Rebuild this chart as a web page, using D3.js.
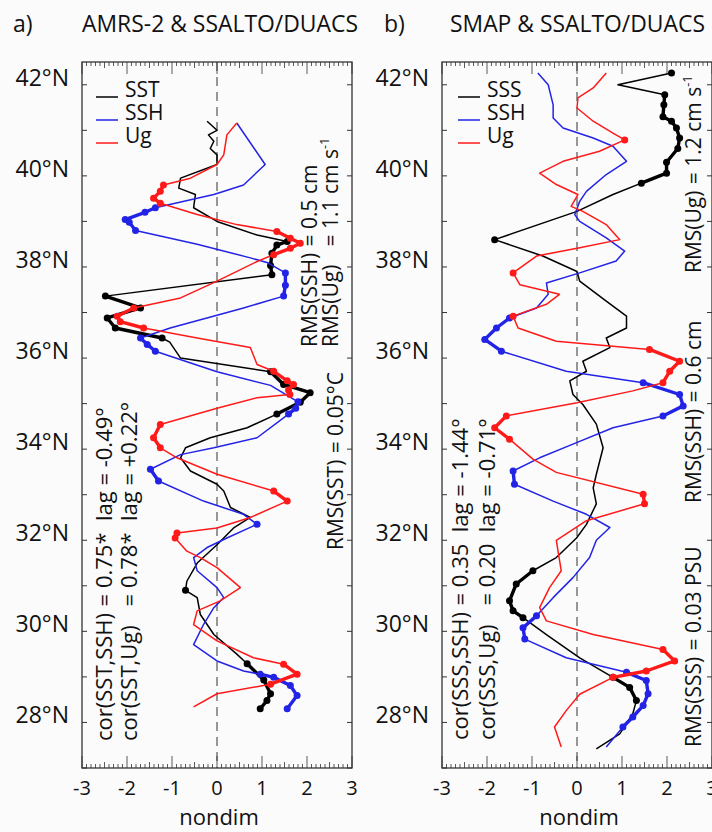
<!DOCTYPE html>
<html><head><meta charset="utf-8">
<script src="https://cdn.jsdelivr.net/npm/d3@7"></script>
<style>
html,body{margin:0;padding:0;background:#fbfbfb;}
svg{display:block;font-family:"Open Sans","Noto Sans",sans-serif;}
</style></head>
<body><svg id="c" width="712" height="832"></svg>
<script>
// ---------- data: [latitude (°N), value (nondim), flag] flag 1 = marked (thick run), 2 = marked, new run ----------
const sstA = [[41.2,-0.22,0],[41.0,0,0],[40.9,-0.19,0],[40.76,-0.07,0],[40.6,-0.15,0],[40.46,0,0],[40.25,0,0],[39.95,-0.81,0],[39.73,-0.85,0],[39.59,-0.48,0],[39.3,-0.52,0],[39.0,0,0],[38.7,0.89,0],[38.56,1.56,1],[38.48,1.33,1],[38.3,1.22,1],[38.03,1.19,1],[37.83,1.22,1],[37.36,-2.48,2],[37.1,-1.7,1],[36.88,-2.44,1],[36.66,-2.26,1],[36.44,-1.22,1],[36.35,-1.05,0],[36.0,-0.81,0],[35.7,1.19,2],[35.42,1.48,1],[35.24,2.07,1],[35.03,1.85,1],[34.77,1.33,1],[34.47,0.67,0],[34.25,-0.15,0],[34.03,-0.70,0],[33.81,-0.81,0],[33.52,-0.59,0],[33.23,0,0],[33.08,0.15,0],[32.72,0.30,0],[32.5,0.74,0],[32.27,0.37,0],[31.9,0,0],[31.5,-0.44,0],[31.1,-0.67,0],[30.9,-0.70,1],[30.74,-0.44,0],[30.37,-0.37,0],[29.93,-0.07,0],[29.5,0.44,0],[29.29,0.67,1],[28.93,1.04,1],[28.63,1.19,1],[28.48,1.11,1],[28.3,0.96,1]];
const sshA = [[41.16,0.44,0],[40.25,1.07,0],[39.8,0.59,0],[39.59,-0.07,0],[39.3,-1.37,1],[39.2,-1.6,1],[39.04,-2.04,1],[38.98,-1.95,1],[38.8,-1.81,1],[38.5,-0.44,0],[38.2,0.74,0],[38.1,1.11,0],[37.87,1.52,1],[37.6,1.52,1],[37.36,1.48,1],[37.1,0.59,0],[36.66,-1.04,0],[36.44,-1.70,1],[36.3,-1.55,1],[36.15,-1.37,1],[35.7,0,0],[35.4,1.19,0],[35.04,1.80,1],[34.9,1.75,1],[34.77,1.59,1],[34.25,0.89,0],[34.03,-0.07,0],[33.88,-0.81,0],[33.56,-1.48,1],[33.3,-1.30,1],[32.86,-0.30,0],[32.57,0.59,0],[32.35,0.89,1],[32.05,0.22,0],[31.84,-0.22,0],[31.62,-0.52,0],[31.33,-0.44,0],[30.96,0,0],[30.74,0.15,0],[30.52,-0.07,0],[30.15,-0.30,0],[29.71,-0.52,0],[29.35,0,0],[29.13,0.59,0],[29.06,0.96,1],[28.99,1.26,1],[28.81,1.63,1],[28.59,1.78,1],[28.3,1.56,1]];
const ugA = [[41.16,0.44,0],[40.9,0.22,0],[40.46,0.15,0],[40.25,0,0],[39.95,-0.59,0],[39.8,-1.19,1],[39.66,-1.26,1],[39.51,-1.41,1],[39.4,-1.26,1],[39.15,-0.44,0],[38.93,0.44,0],[38.78,1.33,1],[38.63,1.63,1],[38.52,1.85,1],[38.41,1.63,1],[38.27,1.26,1],[38.12,0.89,0],[37.69,0,0],[37.32,-0.81,0],[37.1,-1.85,1],[36.92,-2.22,1],[36.8,-2.15,1],[36.66,-1.63,1],[36.44,-0.44,0],[36.23,0.74,0],[35.86,0.89,0],[35.71,1.26,1],[35.5,1.56,1],[35.42,1.70,1],[35.3,1.59,1],[35.2,1.62,1],[35.13,0.89,0],[34.9,0,0],[34.54,-1.26,1],[34.25,-1.41,1],[34.03,-1.26,1],[33.81,-0.89,0],[33.45,0,0],[33.08,1.26,1],[32.86,1.56,1],[32.5,0.74,0],[32.27,0,0],[32.16,-0.89,1],[32.05,-0.93,1],[31.76,-0.67,0],[31.62,-0.37,0],[31.4,0,0],[30.96,0.52,0],[30.67,0.07,0],[30.45,-0.44,0],[30.15,-0.52,0],[29.79,0,0],[29.42,0.81,0],[29.28,1.48,1],[29.06,1.78,1],[28.84,1.19,1],[28.63,0,0],[28.34,-0.52,0]];
const sssB = [[42.26,2.10,1],[42.0,0.91,0],[41.78,1.95,1],[41.56,1.93,1],[41.3,1.91,1],[41.2,2.1,1],[41.05,2.21,1],[40.83,2.28,1],[40.6,2.24,1],[40.3,1.99,1],[40.06,1.99,1],[39.84,1.43,1],[39.59,0.8,0],[39.22,0,0],[38.6,-1.83,1],[38.24,-0.76,0],[37.9,0,0],[37.69,0.06,0],[37.25,0.65,0],[36.92,1.10,0],[36.66,1.10,0],[36.44,0.65,0],[36.23,0.73,0],[35.93,0.13,0],[35.71,0.21,0],[35.5,-0.16,0],[35.2,-0.09,0],[34.98,0.13,0],[34.55,0.43,0],[34.03,0.58,0],[33.45,0.43,0],[33.15,0.36,0],[32.8,0.43,0],[32.35,0.21,0],[32.05,-0.01,0],[31.62,-0.46,0],[31.33,-0.98,1],[31.04,-1.35,1],[30.67,-1.50,1],[30.45,-1.42,1],[30.3,-1.2,1],[29.93,-0.68,0],[29.42,0.06,0],[28.99,0.8,1],[28.77,1.17,1],[28.48,1.32,1],[28.19,1.24,0],[27.75,0.95,0],[27.42,0.43,0]];
const sshB = [[42.26,-0.87,0],[42.0,-0.64,0],[41.56,-0.53,0],[41.27,-0.53,0],[41.05,-0.31,0],[40.83,0.36,0],[40.65,0.80,0],[40.32,1.10,0],[40.03,0.65,0],[39.66,0.21,0],[39.44,0.06,0],[39.15,-0.05,0],[39.0,0.06,0],[38.64,0.65,0],[38.35,1.06,0],[38.13,0.87,0],[37.87,0.06,0],[37.65,-0.68,0],[37.4,-0.64,0],[37.1,-0.9,0],[36.88,-1.5,1],[36.66,-1.79,1],[36.41,-2.05,1],[36.15,-1.68,1],[35.71,-0.24,0],[35.46,1.47,1],[35.2,2.28,1],[34.95,2.36,1],[34.73,1.91,1],[34.47,0.80,0],[34.11,-0.09,0],[33.81,-0.83,0],[33.52,-1.42,1],[33.23,-1.39,1],[32.86,-0.53,0],[32.57,0.21,0],[32.28,0.73,0],[32.0,0.43,0],[31.62,0.28,0],[31.18,-0.09,0],[30.74,-0.53,0],[30.34,-0.9,1],[30.08,-1.2,1],[29.83,-1.16,1],[29.42,-0.24,0],[29.1,1.10,1],[28.92,1.54,1],[28.63,1.58,1],[28.37,1.47,1],[28.12,1.24,1],[27.9,1.02,1],[27.46,0.65,0]];
const ugB = [[42.26,0.65,0],[41.93,0.36,0],[41.71,0.02,0],[41.49,0,0],[41.2,0.36,0],[40.94,0.80,0],[40.79,1.06,1],[40.54,0.50,0],[40.32,-0.31,0],[40.06,-0.83,0],[39.81,-0.46,0],[39.59,0.02,0],[39.33,-0.13,0],[39.22,0.13,0],[38.93,0.65,0],[38.6,0.95,0],[38.42,0.06,0],[38.24,-0.9,0],[37.87,-1.42,1],[37.61,-1.27,0],[37.4,-0.39,0],[37.18,-0.68,0],[36.92,-1.42,1],[36.66,-1.31,0],[36.37,-0.46,0],[36.19,1.61,1],[35.93,2.28,1],[35.71,2.06,1],[35.46,1.91,1],[35.28,1.24,0],[35.02,0,0],[34.73,-1.57,1],[34.47,-1.83,1],[34.22,-1.50,1],[33.78,-0.98,0],[33.49,-0.46,0],[33.01,1.47,1],[32.8,1.50,1],[32.43,0.21,0],[32.0,-0.46,0],[31.33,-0.35,0],[30.96,-0.61,0],[30.52,-0.83,0],[30.23,-0.68,0],[29.93,0.36,0],[29.6,1.91,1],[29.35,2.17,1],[29.13,1.54,1],[28.99,0.8,1],[28.62,0.06,0],[28.26,-0.24,0],[27.9,-0.5,0],[27.46,-0.35,0]];

const xTicks = [-3,-2,-1,0,1,2,3];
const latTicks = [28,30,32,34,36,38,40,42];
const latDomain = [27, 42.5];
const xDomain = [-3, 3];

const panels = [
  {letter:"a)", title:"AMRS-2 & SSALTO/DUACS", x0:82, legend:["SST","SSH","Ug"],
   series:[sstA, sshA, ugA],
   rms:[{parts:["RMS(SSH)","= 0.5 cm"],x:317,y:347},{parts:["RMS(Ug)","= 1.1 cm s"],sup:"-1",x:338,y:347},{parts:["RMS(SST)","= 0.05°C"],x:343,y:550,single:true}],
   cor:[{parts:["cor(SST,SSH)","= 0.75*  lag = -0.49°"],x:112,y:741},{parts:["cor(SST,Ug)","= 0.78*  lag = +0.22°"],x:137,y:741}]},
  {letter:"b)", title:"SMAP & SSALTO/DUACS", x0:442, legend:["SSS","SSH","Ug"],
   series:[sssB, sshB, ugB],
   rms:[{parts:["RMS(Ug)","= 1.2 cm s"],sup:"-1",x:701,y:273,single:true},{parts:["RMS(SSH)","= 0.6 cm"],x:701,y:503,single:true},{parts:["RMS(SSS)","= 0.03 PSU"],x:701,y:747,single:true}],
   cor:[{parts:["cor(SSS,SSH)","= 0.35  lag = -1.44°"],x:468,y:740},{parts:["cor(SSS,Ug)","= 0.20  lag = -0.71°"],x:495,y:740}]}
];
const colors = ["#000000","#2323e6","#ff1a1a"];

const svg = d3.select("#c");
const W = 270, yTop = 62, yBot = 768;
const y = d3.scaleLinear().domain(latDomain).range([yBot, yTop]);

panels.forEach((p, pi) => {
  const x = d3.scaleLinear().domain(xDomain).range([p.x0, p.x0 + W]);
  const g = svg.append("g");
  svg.append("text").attr("x", pi === 0 ? 13 : 384).attr("y", 32).attr("font-size", 23).attr("fill", "#111").text(p.letter);
  svg.append("text").attr("x", pi === 0 ? 82 : 450).attr("y", 32).attr("font-size", 23).attr("fill", "#111")
    .attr("textLength", pi === 0 ? 276 : 255).attr("lengthAdjust", "spacingAndGlyphs").text(p.title);

  g.append("line").attr("x1", x(0)).attr("x2", x(0)).attr("y1", yTop).attr("y2", yBot)
    .attr("stroke", "#333").attr("stroke-width", 1).attr("stroke-dasharray", "9,6");

  const minor = d3.range(-30, 31).map(d => d / 10);
  minor.forEach(v => {
    const isInt = Math.abs(v - Math.round(v)) < 1e-9;
    const isHalf = !isInt && Math.abs(v * 2 - Math.round(v * 2)) < 1e-9;
    const len = isInt ? 12 : (isHalf ? 6 : 4);
    [[yBot, -1], [yTop, 1]].forEach(([yy, dir]) => {
      g.append("line").attr("x1", x(v)).attr("x2", x(v)).attr("y1", yy).attr("y2", yy + dir * len)
        .attr("stroke", "#333").attr("stroke-width", 0.8);
    });
  });
  d3.range(27, 43).forEach(l => {
    [[p.x0, 1], [p.x0 + W, -1]].forEach(([xx, dir]) => {
      g.append("line").attr("x1", xx).attr("x2", xx + dir * 5).attr("y1", y(l)).attr("y2", y(l))
        .attr("stroke", "#333").attr("stroke-width", 1);
    });
  });
  g.append("rect").attr("x", p.x0).attr("y", yTop).attr("width", W).attr("height", yBot - yTop)
    .attr("fill", "none").attr("stroke", "#333").attr("stroke-width", 1.3);

  latTicks.forEach(l => {
    svg.append("text").attr("x", p.x0 - 13).attr("y", y(l) + 1).attr("text-anchor", "end")
      .attr("font-size", 23).attr("fill", "#111").text(l + "°N");
  });
  xTicks.forEach(v => {
    svg.append("text").attr("x", x(v)).attr("y", 795).attr("text-anchor", "middle")
      .attr("font-size", 20).attr("fill", "#111").text(v);
  });
  svg.append("text").attr("x", x(0) + 2).attr("y", 825).attr("text-anchor", "middle")
    .attr("font-size", 22).attr("fill", "#111").text("nondim");

  const line = d3.line().x(d => x(d[1])).y(d => y(d[0]));
  p.series.forEach((s, si) => {
    const c = colors[si];
    g.append("path").attr("d", line(s)).attr("fill", "none").attr("stroke", c).attr("stroke-width", 1.5)
      .attr("stroke-linejoin", "round");
    for (let i = 1; i < s.length; i++) {
      if (s[i][2] === 1 && s[i - 1][2] >= 1) {
        g.append("path").attr("d", line([s[i - 1], s[i]])).attr("fill", "none").attr("stroke", c)
          .attr("stroke-width", 3.4).attr("stroke-linecap", "round");
      }
    }
    g.selectAll(null).data(s.filter(d => d[2] >= 1)).enter().append("circle")
      .attr("cx", d => x(d[1])).attr("cy", d => y(d[0])).attr("r", 3.5).attr("fill", c);
  });

  const lx = pi === 0 ? 96 : 458;
  [97, 120, 143].forEach((ly, i) => {
    svg.append("line").attr("x1", lx).attr("x2", lx + 22).attr("y1", ly).attr("y2", ly)
      .attr("stroke", colors[i]).attr("stroke-width", 1.5);
    svg.append("text").attr("x", lx + 29).attr("y", ly).attr("font-size", 21).attr("fill", "#111").text(p.legend[i]);
  });

  function rotText(items, fs) {
    const nodes = [];
    let maxW = 0;
    items.forEach(it => {
      const t = svg.append("text").attr("transform", `translate(${it.x},${it.y}) rotate(-90)`)
        .attr("font-size", fs).attr("fill", "#111");
      const a = t.append("tspan").attr("x", 0).text(it.parts[0]);
      const w = a.node().getComputedTextLength();
      if (!it.single) maxW = Math.max(maxW, w);
      nodes.push({t, it, w});
    });
    nodes.forEach(({t, it, w}) => {
      const off = (it.single ? w : maxW) + fs * 0.3;
      t.append("tspan").attr("x", off).attr("style", "white-space:pre").text(it.parts[1]);
      if (it.sup) t.append("tspan").attr("font-size", fs * 0.6).attr("dy", -fs * 0.45).text(it.sup);
    });
  }
  rotText(p.rms, 21);
  rotText(p.cor, 22);
});
</script></body></html>
